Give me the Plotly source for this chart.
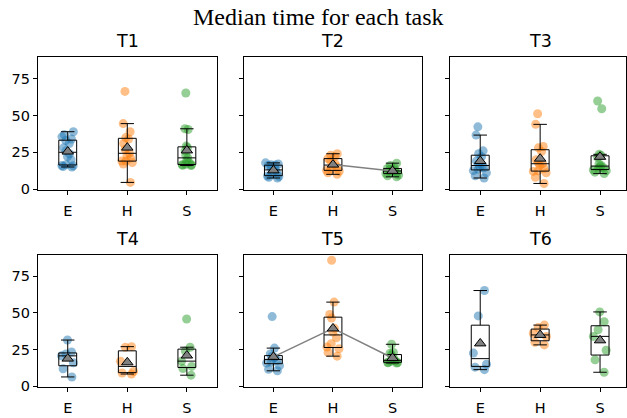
import numpy as np
import plotly.graph_objects as go

# ---------------- data ----------------
tasks = ["T1", "T2", "T3", "T4", "T5", "T6"]
groups = ["E", "H", "S"]
group_colors = ["#1f77b4", "#ff7f0e", "#2ca02c"]
y_ticks = [0, 25, 50, 75]

t1_E = [15.0, 15.3, 15.8, 16.0, 16.5, 20, 22, 24, 26, 28, 31, 33, 34, 35.5, 37, 39]
t1_H = [4.5, 17, 18, 19, 19, 21, 23, 24.3, 27, 31, 34, 35, 39, 44.5, 66.4]
t1_S = [16, 16.2, 16.5, 16.6, 16.8, 18, 19.5, 21.2, 23, 26, 28.2, 29.2, 40.5, 41, 65.3]

t2_E = [7.5, 8, 8.5, 8.8, 10, 11, 12.5, 13.5, 14.5, 16, 16.3, 16.5, 17, 17.8]
t2_H = [10, 11, 12, 12.7, 13.5, 15, 16.3, 17, 19, 20.7, 22, 23, 24]
t2_S = [8.3, 9, 9.5, 10.5, 11, 11.5, 12.3, 12.8, 13.5, 14, 14.5, 16, 17.6]

t3_E = [7.5, 9, 11, 12.5, 13.5, 14.5, 15, 16, 17, 19, 22, 24, 26, 36.7, 42.3]
t3_H = [3.8, 8, 11, 12, 12.4, 14, 16, 17.2, 18, 20, 25.5, 28, 29, 44, 51.2]
t3_S = [10.5, 11.5, 12.5, 13, 14, 14.5, 15.2, 16, 17, 21.5, 23, 23.6, 54.6, 59.9]

t4_E = [6.3, 11.9, 16, 20.7, 22, 23.4, 31.5]
t4_H = [8.3, 9, 10, 17, 26.5, 27]
t4_S = [7.5, 12, 13.5, 17.1, 24, 26.6, 45.9]

t5_E = [10.5, 11.5, 14, 15.8, 16.5, 17.5, 18.8, 19.5, 20.5, 22, 26, 47.5]
t5_H = [20.5, 23, 25.5, 26.7, 29, 33, 37, 39.5, 46.5, 49, 57.4, 86]
t5_S = [15.8, 16, 16.2, 16.3, 17, 17.3, 18, 19, 21.3, 22.5, 23, 28.6]

t6_E = [11.3, 13, 15, 22.6, 48, 65.3]
t6_H = [28.2, 30, 34, 36, 40, 41.7]
t6_S = [9.5, 18, 24.5, 34, 38.5, 44, 50.7]

task_data = {
    "T1": [t1_E, t1_H, t1_S],
    "T2": [t2_E, t2_H, t2_S],
    "T3": [t3_E, t3_H, t3_S],
    "T4": [t4_E, t4_H, t4_S],
    "T5": [t5_E, t5_H, t5_S],
    "T6": [t6_E, t6_H, t6_S],
}
# pairs of groups whose means are joined by a line
mean_links = {"T2": [("H", "S")], "T5": [("E", "H"), ("H", "S")]}

# ---------------- layout geometry ----------------
W, H = 627, 418
col_px = [(38, 217), (244, 423), (451, 627)]
row_px = [(58, 193), (259, 393.5)]
y_range = [-0.5, 89.8]

fig = go.Figure()
layout = dict(
    width=W, height=H, margin=dict(l=0, r=0, t=0, b=0),
    paper_bgcolor="white", plot_bgcolor="white", showlegend=False,
    boxmode="overlay", font=dict(family="DejaVu Sans", size=14, color="black"),
)
annotations = []


def box_stats(v):
    a = np.asarray(v, dtype=float)
    q1, med, q3 = np.percentile(a, [25, 50, 75])
    iqr = q3 - q1
    hi = a[a <= q3 + 1.5 * iqr].max()
    lo = a[a >= q1 - 1.5 * iqr].min()
    return q1, med, q3, lo, hi, a.mean()


for k, task in enumerate(tasks):
    r, c = divmod(k, 3)
    xa = "x" if k == 0 else f"x{k+1}"
    ya = "y" if k == 0 else f"y{k+1}"
    xkey = "xaxis" if k == 0 else f"xaxis{k+1}"
    ykey = "yaxis" if k == 0 else f"yaxis{k+1}"
    x0, x1 = col_px[c]
    yt, yb = row_px[r]
    xr_end = 2.5 if c < 2 else 2.5 - (631 - 627) / 60.0
    layout[xkey] = dict(
        domain=[x0 / W, x1 / W], anchor=ya, type="category",
        categoryorder="array", categoryarray=groups, range=[-0.5, xr_end],
        showline=True, mirror=True, linecolor="black", linewidth=1,
        ticks="outside", ticklen=4, tickcolor="black", showgrid=False,
        zeroline=False, tickfont=dict(size=14.5), fixedrange=True,
        ticklabelstandoff=4,
    )
    layout[ykey] = dict(
        domain=[1 - yb / H, 1 - yt / H], anchor=xa, range=y_range,
        tickvals=y_ticks, showticklabels=(c == 0),
        showline=True, mirror=True, linecolor="black", linewidth=1,
        ticks="outside", ticklen=4, tickcolor="black", showgrid=False,
        zeroline=False, tickfont=dict(size=14.5), fixedrange=True,
    )
    cx = (x0 + x1) / 2 if c < 2 else (x0 + 631) / 2
    annotations.append(dict(
        text=task, xref="paper", yref="paper",
        x=cx / W, y=1 - (yt - 4) / H, xanchor="center", yanchor="bottom",
        showarrow=False, font=dict(size=17.5, color="black"),
    ))

    vals = task_data[task]
    # jittered points
    for g, v, col in zip(groups, vals, group_colors):
        fig.add_trace(go.Box(
            y=v, x=[g] * len(v), xaxis=xa, yaxis=ya, width=0.3,
            boxpoints="all", jitter=0.9, pointpos=0,
            line=dict(width=0, color="rgba(0,0,0,0)"), fillcolor="rgba(0,0,0,0)",
            marker=dict(color=col, opacity=0.5, size=9, line=dict(width=0)),
            hoverinfo="skip",
        ))
    # boxes
    means = {}
    for g, v in zip(groups, vals):
        q1, med, q3, lo, hi, mu = box_stats(v)
        means[g] = mu
        fig.add_trace(go.Box(
            x=[g], q1=[q1], median=[med], q3=[q3], lowerfence=[lo], upperfence=[hi],
            xaxis=xa, yaxis=ya, width=0.3, whiskerwidth=0.75,
            boxpoints=False, fillcolor="rgba(0,0,0,0)",
            line=dict(color="black", width=1), hoverinfo="skip",
        ))
    # lines between means
    for a, b in mean_links.get(task, []):
        fig.add_trace(go.Scatter(
            x=[a, b], y=[means[a], means[b]], xaxis=xa, yaxis=ya, mode="lines",
            line=dict(color="gray", width=1.5), hoverinfo="skip",
        ))
    # mean markers
    fig.add_trace(go.Scatter(
        x=groups, y=[means[g] for g in groups], xaxis=xa, yaxis=ya, mode="markers",
        marker=dict(symbol="triangle-up", size=10, color="gray",
                    line=dict(color="black", width=1)),
        hoverinfo="skip",
    ))

annotations.append(dict(
    text="Median time for each task", xref="paper", yref="paper",
    x=319 / W, y=1 - 17 / H, xanchor="center", yanchor="middle", showarrow=False,
    font=dict(family="Liberation Serif", size=24, color="black"),
))
layout["annotations"] = annotations
fig.update_layout(**layout)
fig.write_html(
    "out.html",
    config={"displayModeBar": False, "staticPlot": True},
    post_script="document.body.style.margin='0';document.body.style.padding='0';",
)
